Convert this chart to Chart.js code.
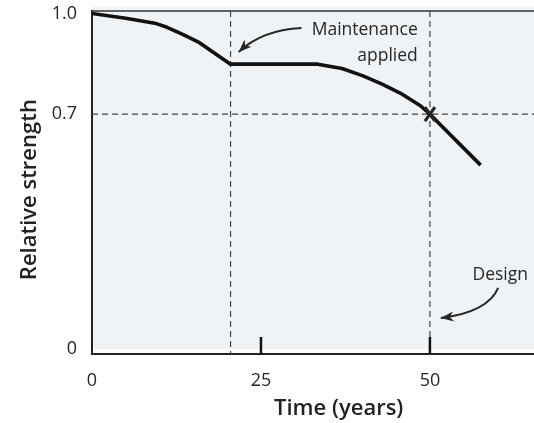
<!DOCTYPE html>
<html>
<head>
<meta charset="utf-8">
<script src="https://cdn.jsdelivr.net/npm/chart.js@4/dist/chart.umd.min.js"></script>
<style>
  html, body { margin: 0; padding: 0; background: #fff; }
  #wrap { width: 534px; height: 423px; position: relative; }
</style>
</head>
<body>
<div id="wrap"><canvas id="strength"></canvas></div>
<script>
// years and relative strength
const years    = [0, 5, 9.5, 11.1, 13.5, 15.9, 20.5, 33.4, 37, 40.1, 43, 45.6, 48.6, 50, 57.5];
const strength = [1.0, 0.986, 0.97, 0.959, 0.937, 0.913, 0.849, 0.849, 0.836, 0.814, 0.789, 0.763, 0.725, 0.70, 0.548];

const xTicks = [0, 25, 50];
const yTicks = [0, 0.7, 1.0];
const maintenanceYear = 20.5;
const designYear = 50;
const designStrength = 0.7;

const ink = '#262626';
const font = '"Open Sans", "Noto Sans", sans-serif';

function arrow(ctx, x0, y0, cx, cy, x1, y1) {
	ctx.beginPath();
	ctx.moveTo(x0, y0);
	ctx.quadraticCurveTo(cx, cy, x1, y1);
	ctx.stroke();
	const a = Math.atan2(y1 - cy, x1 - cx);
	const len = 13, half = 5;
	ctx.beginPath();
	ctx.moveTo(x1, y1);
	ctx.lineTo(x1 - len * Math.cos(a) + half * Math.sin(a), y1 - len * Math.sin(a) - half * Math.cos(a));
	ctx.lineTo(x1 - len * 0.7 * Math.cos(a), y1 - len * 0.7 * Math.sin(a));
	ctx.lineTo(x1 - len * Math.cos(a) - half * Math.sin(a), y1 - len * Math.sin(a) + half * Math.cos(a));
	ctx.closePath();
	ctx.fill();
}

const decor = {
	id: 'decor',
	beforeDraw(chart) {
		const {ctx, chartArea: a} = chart;
		ctx.save();
		ctx.fillStyle = '#eff3f6';
		ctx.fillRect(a.left, a.top - 4, a.right - a.left, a.bottom - a.top - 1);
		ctx.restore();
	},
	beforeDatasetsDraw(chart) {
		const {ctx, chartArea: a, scales: {x, y}} = chart;
		ctx.save();
		ctx.strokeStyle = '#444';
		ctx.lineWidth = 1.2;
		ctx.setLineDash([6, 4]);
		[maintenanceYear, designYear].forEach(v => {
			const px = x.getPixelForValue(v);
			ctx.beginPath(); ctx.moveTo(px, a.top); ctx.lineTo(px, a.bottom); ctx.stroke();
		});
		const py = y.getPixelForValue(designStrength);
		ctx.beginPath(); ctx.moveTo(a.left, py); ctx.lineTo(a.right, py); ctx.stroke();
		ctx.restore();
	},
	afterDatasetsDraw(chart) {
		const {ctx, chartArea: a, scales: {x, y}} = chart;
		ctx.save();
		// top frame line
		ctx.strokeStyle = '#333';
		ctx.lineWidth = 1.5;
		ctx.beginPath(); ctx.moveTo(a.left, a.top); ctx.lineTo(a.right, a.top); ctx.stroke();

		// inward tick marks
		ctx.strokeStyle = '#111';
		ctx.lineWidth = 2.5;
		xTicks.slice(1).forEach(v => {
			const px = x.getPixelForValue(v);
			ctx.beginPath(); ctx.moveTo(px, a.bottom); ctx.lineTo(px, a.bottom - 17); ctx.stroke();
		});

		// design point marker
		const mx = x.getPixelForValue(designYear), my = y.getPixelForValue(designStrength);
		ctx.strokeStyle = ink;
		ctx.lineWidth = 3.2;
		ctx.beginPath();
		ctx.moveTo(mx - 5, my - 7); ctx.lineTo(mx + 5, my + 7);
		ctx.moveTo(mx + 5, my - 7); ctx.lineTo(mx - 5, my + 7);
		ctx.stroke();

		// labels
		ctx.fillStyle = ink;
		ctx.font = '17.5px ' + font;
		ctx.textBaseline = 'middle';
		ctx.textAlign = 'right';
		ctx.fillText('Maintenance', x.getPixelForValue(48.2), y.getPixelForValue(0.951));
		ctx.fillText('applied', x.getPixelForValue(48.2), y.getPixelForValue(0.872));
		ctx.textAlign = 'center';
		ctx.fillText('Design', x.getPixelForValue(60.4), y.getPixelForValue(0.221));

		ctx.strokeStyle = ink;
		ctx.lineWidth = 2;
		arrow(ctx,
			x.getPixelForValue(31.0), y.getPixelForValue(0.957),
			x.getPixelForValue(25.1), y.getPixelForValue(0.951),
			x.getPixelForValue(21.7), y.getPixelForValue(0.885));
		arrow(ctx,
			x.getPixelForValue(60.1), y.getPixelForValue(0.182),
			x.getPixelForValue(58.6), y.getPixelForValue(0.110),
			x.getPixelForValue(51.6), y.getPixelForValue(0.092));

		// axis titles
		ctx.fillStyle = '#222';
		ctx.font = '600 22px ' + font;
		ctx.textAlign = 'center';
		ctx.fillText('Time (years)', x.getPixelForValue(36.5), 409);
		ctx.translate(30, y.getPixelForValue(0.475));
		ctx.rotate(-Math.PI / 2);
		ctx.fillText('Relative strength', 0, 0);
		ctx.restore();
	}
};

const chart = new Chart(document.getElementById('strength'), {
	type: 'line',
	data: {
		datasets: [{
			data: years.map((t, i) => ({x: t, y: strength[i]})),
			borderColor: '#111',
			borderWidth: 3.6,
			borderJoinStyle: 'round',
			pointRadius: 0,
			tension: 0,
			fill: false
		}]
	},
	options: {
		responsive: true,
		maintainAspectRatio: false,
		animation: false,
		layout: { padding: { top: 11, right: 0, bottom: 0, left: 0 } },
		plugins: { legend: { display: false }, tooltip: { enabled: false } },
		scales: {
			x: {
				type: 'linear',
				min: 0,
				max: 65.4,
				afterFit: s => { s.height = 69; s.paddingLeft = 0; s.paddingRight = 0; },
				afterBuildTicks: s => { s.ticks = xTicks.map(v => ({value: v})); },
				grid: { display: false, drawTicks: false },
				border: { display: true, color: '#222', width: 2 },
				ticks: { color: ink, padding: 16, font: { family: font, size: 18 }, callback: v => String(v) }
			},
			y: {
				type: 'linear',
				min: -0.015,
				max: 1.0075,
				afterFit: s => { s.width = 92; s.paddingTop = 0; s.paddingBottom = 0; },
				afterBuildTicks: s => { s.ticks = yTicks.map(v => ({value: v})); },
				grid: { display: false, drawTicks: false },
				border: { display: true, color: '#222', width: 2 },
				ticks: { color: ink, padding: 15, font: { family: font, size: 18 },
					callback: v => v === 0 ? '0' : v.toFixed(1) }
			}
		}
	},
	plugins: [decor]
});
</script>
</body>
</html>
